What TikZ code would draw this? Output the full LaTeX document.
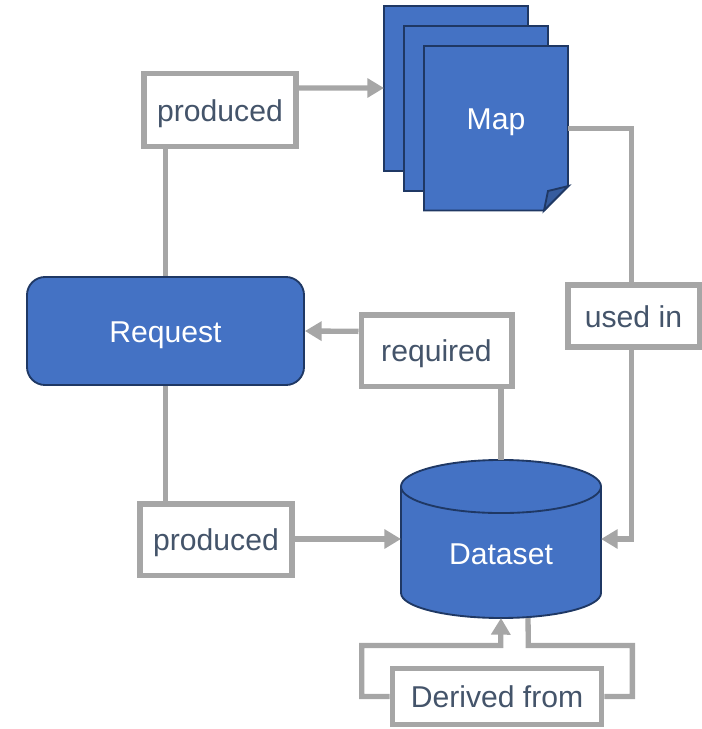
\documentclass[tikz,border=0pt]{standalone}
\usepackage{fontspec}
\setmainfont{Liberation Sans}
\usetikzlibrary{arrows.meta,calc}
\definecolor{fillblue}{HTML}{4472C4}
\definecolor{edgeblue}{HTML}{1F3864}
\definecolor{foldblue}{HTML}{365C9E}
\definecolor{linkgray}{HTML}{A6A6A6}
\definecolor{labeltext}{HTML}{44546A}
\tikzset{
  x=0.75pt,y=-0.75pt,
  label box/.style={draw=linkgray,fill=white,line width=4pt,text=labeltext,font=\fontsize{22.6pt}{24pt}\selectfont,inner sep=0pt,anchor=center,text height=20pt,text depth=3.5pt},
  shape text/.style={text=white,font=\fontsize{22.6pt}{24pt}\selectfont,inner sep=0pt,text height=20pt,text depth=3.5pt},
  blue shape/.style={draw=edgeblue,fill=fillblue,line width=1.4pt,line join=miter},
  link/.style={draw=linkgray,line width=4pt,line join=miter},
  arrow link/.style={link,-{Triangle[length=12.5pt,width=14pt]}},
}
\begin{document}
\begin{tikzpicture}
\useasboundingbox (0,0) rectangle (702,729);
% Map stack
\draw[blue shape] (384,6) rectangle (528,171);
\draw[blue shape] (404,26) rectangle (548,191);
\draw[blue shape] (424,46) -- (568,46) -- (568,186) -- (544,210.5) -- (424,210.5) -- cycle;
\draw[blue shape,fill=foldblue] (544,210.5) -- (548,191) -- (568.5,186) -- cycle;
\node[shape text] (map) at (496,118) {Map};
\node[inner sep=0pt,outer sep=0pt,minimum width=108pt,minimum height=123.75pt] (backsheet) at (456,88.5) {};
\node[inner sep=0pt,outer sep=0pt,minimum width=108pt,minimum height=123.75pt] (frontsheet) at (496,128.25) {};
% Request
\node[blue shape,rounded corners=13.5pt,minimum width=207.75pt,minimum height=81pt,shape text,draw=edgeblue,fill=fillblue] (request) at (165.5,331) {Request};
% Dataset
\draw[blue shape] (401,486.5) -- (401,593) arc[start angle=180,end angle=360,x radius=75pt,y radius=18.75pt] -- (601,486.5)
  arc[start angle=0,end angle=180,x radius=75pt,y radius=19.9pt] -- cycle;
\draw[blue shape,fill=none] (401,486.5) arc[start angle=180,end angle=360,x radius=75pt,y radius=19.9pt];
\node[inner sep=0pt,outer sep=0pt,minimum width=150pt,minimum height=118.5pt] (dataset) at (501,539) {};
\node[shape text] (datasetlabel) at (501,553) {Dataset};
% Label boxes
\node[label box,minimum width=114pt,minimum height=55pt] (prodtop) at (220,110) {produced};
\node[label box,minimum width=114pt,minimum height=53.5pt] (prodbot) at (216,539.5) {produced};
\node[label box,minimum width=113pt,minimum height=53.5pt] (required) at (436.5,350.5) {required};
\node[label box,minimum width=98.5pt,minimum height=46.5pt] (usedin) at (633.5,316) {used in};
\node[label box,minimum width=157pt,minimum height=42pt] (derived) at (497,696.5) {Derived from};
% Connectors
\draw[arrow link] ($(prodtop.north east)!0.22!(prodtop.south east)$) -- (backsheet.west |- 0,88);
\draw[link] (prodtop.south -| request) -- (request.north);
\draw[link] ($(frontsheet.north east)!0.5!(frontsheet.south east)$) -| ($(usedin.north)+(-2,0)$);
\draw[arrow link] ($(usedin.south)+(-2,0)$) |- (dataset.east);
\draw[arrow link] ($(required.north west)!0.25!(required.south west)$) -- (request.east |- 0,331);
\draw[link] (request.south) -- (prodbot.north -| request);
\draw[link] (required.south -| dataset) -- (dataset.north);
\draw[arrow link] (prodbot.east |- dataset) -- (dataset.west);
\draw[arrow link] (derived.west) -- ++(-28,0) |- ++(139,-51) -- (dataset.south);
\draw[link] (derived.east) -- ++(28,0) |- ++(-104,-51) -- ($(dataset.south)+(27,0)$);
\end{tikzpicture}
\end{document}
